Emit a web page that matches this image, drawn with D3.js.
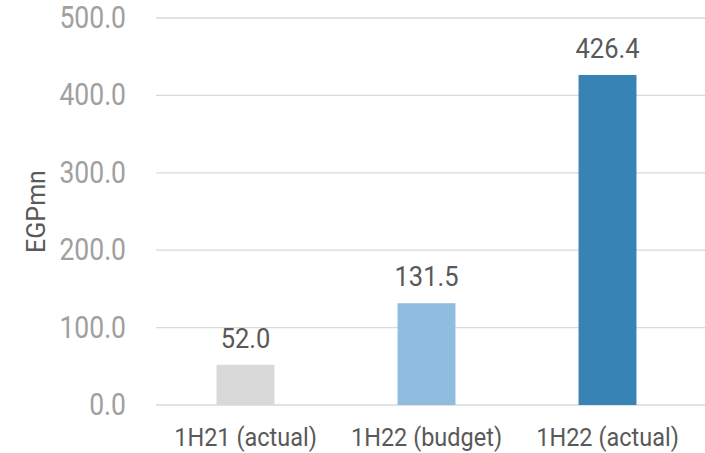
<!DOCTYPE html>
<html>
<head>
<meta charset="utf-8">
<script src="https://cdn.jsdelivr.net/npm/d3@7"></script>
<style>
  html, body { margin: 0; padding: 0; background: #fff; }
  svg { display: block; font-family: Roboto, "Noto Sans", sans-serif; }
</style>
</head>
<body>
<svg id="chart" width="705" height="453"></svg>
<script>
const categories = ["1H21 (actual)", "1H22 (budget)", "1H22 (actual)"];
const values = [52.0, 131.5, 426.4];
const barColors = ["#d9d9d9", "#8fbde0", "#3783b6"];
const yTicks = [0, 100, 200, 300, 400, 500];
const yLabel = "EGPmn";

const W = 705, H = 453;
const margin = { left: 156, top: 18, bottom: 48 };
const svg = d3.select("#chart");

const x = d3.scaleBand().domain(categories)
  .range([155, 698]).paddingInner(0.68).paddingOuter(0.34);
const y = d3.scaleLinear().domain([0, 500]).range([H - margin.bottom, margin.top]);

// gridlines
svg.append("g").selectAll("line").data(yTicks).join("line")
  .attr("x1", margin.left).attr("x2", W)
  .attr("y1", d => y(d)).attr("y2", d => y(d))
  .attr("stroke", "#d9d9d9").attr("stroke-width", 1.3);

// y axis labels
const yAxis = d3.axisLeft(y).tickValues(yTicks).tickFormat(d3.format(".1f")).tickSize(0).tickPadding(30);
const ya = svg.append("g").attr("transform", `translate(${margin.left},0)`).call(yAxis);
ya.select(".domain").remove();
ya.selectAll("text")
  .attr("fill", "#a0a0a0")
  .attr("dy", "0.3em")
  .attr("transform", "scale(1,1.2)")
  .style("font-size", "26.5px")
  .style("font-family", "Roboto, sans-serif");

// bars
svg.append("g").selectAll("rect").data(values).join("rect")
  .attr("x", (d, i) => x(categories[i]))
  .attr("width", x.bandwidth())
  .attr("y", d => y(d))
  .attr("height", d => y(0) - y(d))
  .attr("fill", (d, i) => barColors[i]);

// data labels
svg.append("g").selectAll("text").data(values).join("text")
  .attr("transform", (d, i) => `translate(${x(categories[i]) + x.bandwidth() / 2},${y(d) - 17}) scale(1,1.08)`)
  .attr("text-anchor", "middle")
  .attr("fill", "#595959")
  .style("font-size", "25.5px")
  .text(d => d3.format(".1f")(d));

// x axis labels
const xAxis = d3.axisBottom(x).tickSize(0);
const xa = svg.append("g").attr("transform", `translate(0,${y(0)})`).call(xAxis);
xa.select(".domain").remove();
xa.selectAll("text")
  .attr("fill", "#595959")
  .attr("y", 36.6)
  .attr("dy", 0)
  .attr("transform", "scale(1,1.12)")
  .style("font-size", "23.5px")
  .style("font-family", "Roboto, sans-serif");

// y axis title
svg.append("text")
  .attr("transform", `translate(45,${(y(0) + y(500)) / 2}) rotate(-90)`)
  .attr("text-anchor", "middle")
  .attr("fill", "#595959")
  .style("font-size", "25px")
  .text(yLabel);
</script>
</body>
</html>
